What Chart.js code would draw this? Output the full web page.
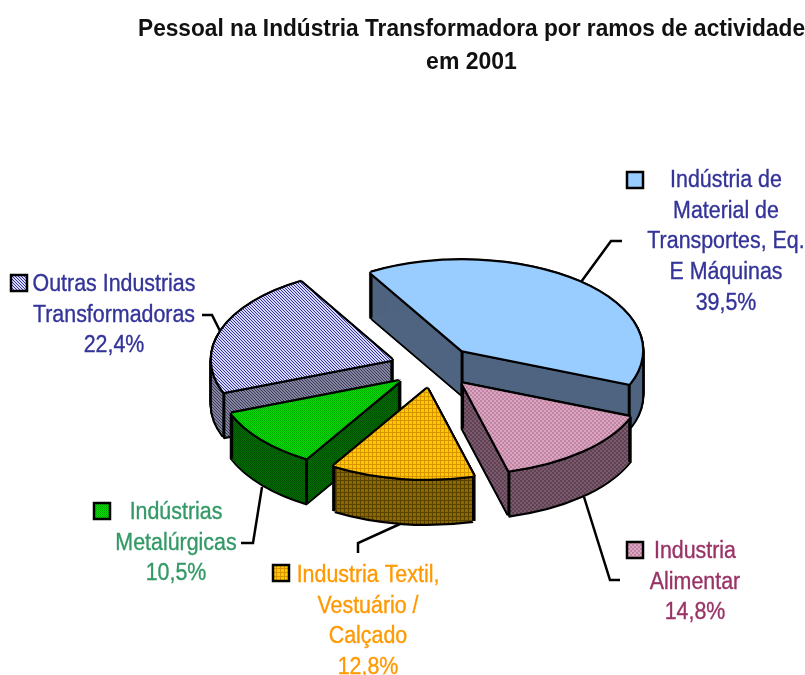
<!DOCTYPE html>
<html><head><meta charset="utf-8">
<style>html,body{margin:0;padding:0;background:#fff}canvas{display:block}</style>
<script src="https://cdn.jsdelivr.net/npm/chart.js@4"></script>
</head><body><canvas id="c" width="805" height="675"></canvas>
<script>
const titleLines = ['Pessoal na Indústria Transformadora por ramos de actividade', 'em 2001'];
const categories = ['Indústria de Material de Transportes, Eq. E Máquinas', 'Industria Alimentar', 'Industria Textil, Vestuário / Calçado', 'Indústrias Metalúrgicas', 'Outras Industrias Transformadoras'];
const values = [39.5, 14.8, 12.8, 10.5, 22.4];
const labelLines = [
  ['Indústria de', 'Material de', 'Transportes, Eq.', 'E Máquinas', '39,5%'],
  ['Industria', 'Alimentar', '14,8%'],
  ['Industria Textil,', 'Vestuário /', 'Calçado', '12,8%'],
  ['Indústrias', 'Metalúrgicas', '10,5%'],
  ['Outras Industrias', 'Transformadoras', '22,4%']
];
const labelColors = ['#333399', '#993366', '#FF9900', '#339966', '#333399'];

// layout (not data)
const FONT = '"Liberation Sans Narrow", "Liberation Sans", sans-serif';
const CX = 433.4, CY = 367, RADIUS = 180, SQUASH = 0.5, DEPTH = 45, EXPLODE = 44, ROTATION = -30.4;
const drawOrder = [0, 4, 1, 3, 2];
const labelPos = [
  {x: 726, y: 180.5, key: [627, 172]},
  {x: 695, y: 551.5, key: [627, 542]},
  {x: 368, y: 575.5, key: [273, 565]},
  {x: 176, y: 512.5, key: [94, 503]},
  {x: 114, y: 284.5, key: [11, 275]}
];
const leaders = [
  [[581, 282], [611, 241], [622, 241]],
  [[584, 497], [610, 580], [620, 580]],
  [[400, 524], [358, 543], [358, 553]],
  [[262, 487], [253, 543], [241, 543]],
  [[220, 331], [212, 315], [202, 315]]
];

function tile(size, bg, paint) {
  const t = document.createElement('canvas');
  t.width = t.height = size;
  const g = t.getContext('2d');
  g.fillStyle = bg; g.fillRect(0, 0, size, size);
  paint(g);
  return document.getElementById('c').getContext('2d').createPattern(t, 'repeat');
}
const checker = (bg, fg) => tile(4, bg, g => { g.fillStyle = fg; g.fillRect(0,0,2,2); g.fillRect(2,2,2,2); });
const mesh = (bg, fg) => tile(2, bg, g => { g.fillStyle = fg; g.fillRect(0,0,1,1); g.fillRect(1,1,1,1); });
const diag = (bg, fg) => tile(3, bg, g => { g.fillStyle = fg; g.fillRect(0,0,1,1); g.fillRect(1,1,1,1); g.fillRect(2,2,1,1); });
const grid = (bg, fg) => tile(4, bg, g => { g.fillStyle = fg; g.fillRect(0,0,1,4); g.fillRect(0,0,4,1); });

const topFills = ['#99CCFF', checker('#DDA4C2', '#BF86A4'), grid('#FFC800', '#D89400'), mesh('#00E000', '#00A800'), diag('#D8D8FF', '#333399')];
const wallFills = ['#4F6480', checker('#7A5A6C', '#5E4253'), grid('#8C6800', '#5A4200'), mesh('#007000', '#004C00'), diag('#8484A0', '#3A3A55')];

function squash(ctx, dx, dy) {
  ctx.translate(dx, CY + dy);
  ctx.scale(1, SQUASH);
  ctx.translate(0, -CY);
}
function plainOptions(fill) {
  return {backgroundColor: fill, borderColor: fill, borderWidth: 0, borderAlign: 'center', borderJoinStyle: 'round',
          borderDash: [], borderDashOffset: 0, offset: 0, spacing: 0, circular: true, borderRadius: 0};
}
function stamp(ctx, arc, fill, dx, dy) {
  ctx.save();
  squash(ctx, dx, dy);
  if (typeof fill !== 'string') fill.setTransform(ctx.getTransform().inverse());
  arc.draw(ctx);
  ctx.restore();
}
function lockPatterns(ctx, list) {
  ctx.save();
  squash(ctx, 0, 0);
  const m = ctx.getTransform().inverse();
  ctx.restore();
  list.forEach(p => { if (typeof p !== 'string') p.setTransform(m); });
}

const pie3d = {
  id: 'pie3d',
  afterDatasetsUpdate(chart) {
    chart.getDatasetMeta(0).data.forEach(arc => {
      const mid = (arc.startAngle + arc.endAngle) / 2;
      arc.x = CX + Math.cos(mid) * EXPLODE;
      arc.y = CY + Math.sin(mid) * EXPLODE;
    });
  },
  beforeDatasetsDraw(chart) {
    const ctx = chart.ctx, arcs = chart.getDatasetMeta(0).data;
    const E = 2.3, D = 1.6;
    drawOrder.forEach(i => {
      const arc = arcs[i], saved = arc.options;
      arc.options = plainOptions('#000');
      for (let dy = 0; dy <= DEPTH; dy++) {
        stamp(ctx, arc, '#000', -E, dy);
        stamp(ctx, arc, '#000', E, dy);
      }
      stamp(ctx, arc, '#000', 0, DEPTH + E);
      arc.options = plainOptions(wallFills[i]);
      for (let dy = 0; dy <= DEPTH; dy++) stamp(ctx, arc, wallFills[i], 0, dy);
      ctx.save();
      ctx.strokeStyle = '#000'; ctx.lineWidth = 3;
      const sy = y => CY + SQUASH * (y - CY);
      [[arc.x, arc.y],
       [arc.x + RADIUS * Math.cos(arc.startAngle), arc.y + RADIUS * Math.sin(arc.startAngle)],
       [arc.x + RADIUS * Math.cos(arc.endAngle), arc.y + RADIUS * Math.sin(arc.endAngle)]].forEach(p => {
        ctx.beginPath(); ctx.moveTo(p[0], sy(p[1])); ctx.lineTo(p[0], sy(p[1]) + DEPTH); ctx.stroke();
      });
      ctx.restore();
      arc.options = saved;
    });
    drawOrder.forEach(i => {
      const arc = arcs[i], saved = arc.options;
      arc.options = plainOptions('#000');
      [[-E,0],[E,0],[0,-E],[0,E],[-D,-D],[D,-D],[-D,D],[D,D]].forEach(o => stamp(ctx, arc, '#000', o[0], o[1]));
      arc.options = saved;
    });
    lockPatterns(ctx, topFills);
    ctx.save();
    squash(ctx, 0, 0);
  },
  afterDatasetsDraw(chart) {
    const ctx = chart.ctx;
    ctx.restore();
    const identity = new DOMMatrix();
    topFills.forEach(p => { if (typeof p !== 'string') p.setTransform(identity); });
    ctx.save();
    ctx.strokeStyle = '#000'; ctx.lineWidth = 2.5; ctx.lineJoin = 'miter';
    leaders.forEach(l => {
      ctx.beginPath();
      l.forEach((p, j) => j ? ctx.lineTo(p[0], p[1]) : ctx.moveTo(p[0], p[1]));
      ctx.stroke();
    });
    ctx.restore();
    ctx.save();
    ctx.font = '400 23px ' + FONT;
    ctx.textAlign = 'center'; ctx.textBaseline = 'middle';
    labelLines.forEach((lines, i) => {
      const pos = labelPos[i];
      ctx.fillStyle = labelColors[i];
      ctx.strokeStyle = labelColors[i]; ctx.lineWidth = 0.35;
      lines.forEach((t, j) => {
        const y = pos.y + j * 30.7;
        ctx.save();
        ctx.translate(pos.x, y);
        ctx.scale(0.93, 1);
        ctx.fillText(t, 0, 0); ctx.strokeText(t, 0, 0);
        ctx.restore();
      });
      ctx.fillStyle = topFills[i];
      ctx.fillRect(pos.key[0], pos.key[1], 16, 16);
      ctx.strokeStyle = '#000'; ctx.lineWidth = 2.5;
      ctx.strokeRect(pos.key[0], pos.key[1], 16, 16);
    });
    ctx.restore();
  }
};

new Chart(document.getElementById('c'), {
  type: 'pie',
  plugins: [pie3d],
  data: {
    labels: categories,
    datasets: [{data: values, backgroundColor: topFills, borderWidth: 0}]
  },
  options: {
    responsive: false,
    animation: false,
    events: [],
    rotation: ROTATION,
    radius: RADIUS,
    layout: {padding: {left: 138, right: 0, top: 0, bottom: 0}},
    plugins: {
      legend: {display: false},
      tooltip: {enabled: false},
      title: {display: true, text: titleLines, color: '#111', align: 'center',
              font: {family: FONT, size: 23, weight: 'bold', lineHeight: 1.43}, padding: {top: 13, bottom: 0}}
    }
  }
});
</script></body></html>
